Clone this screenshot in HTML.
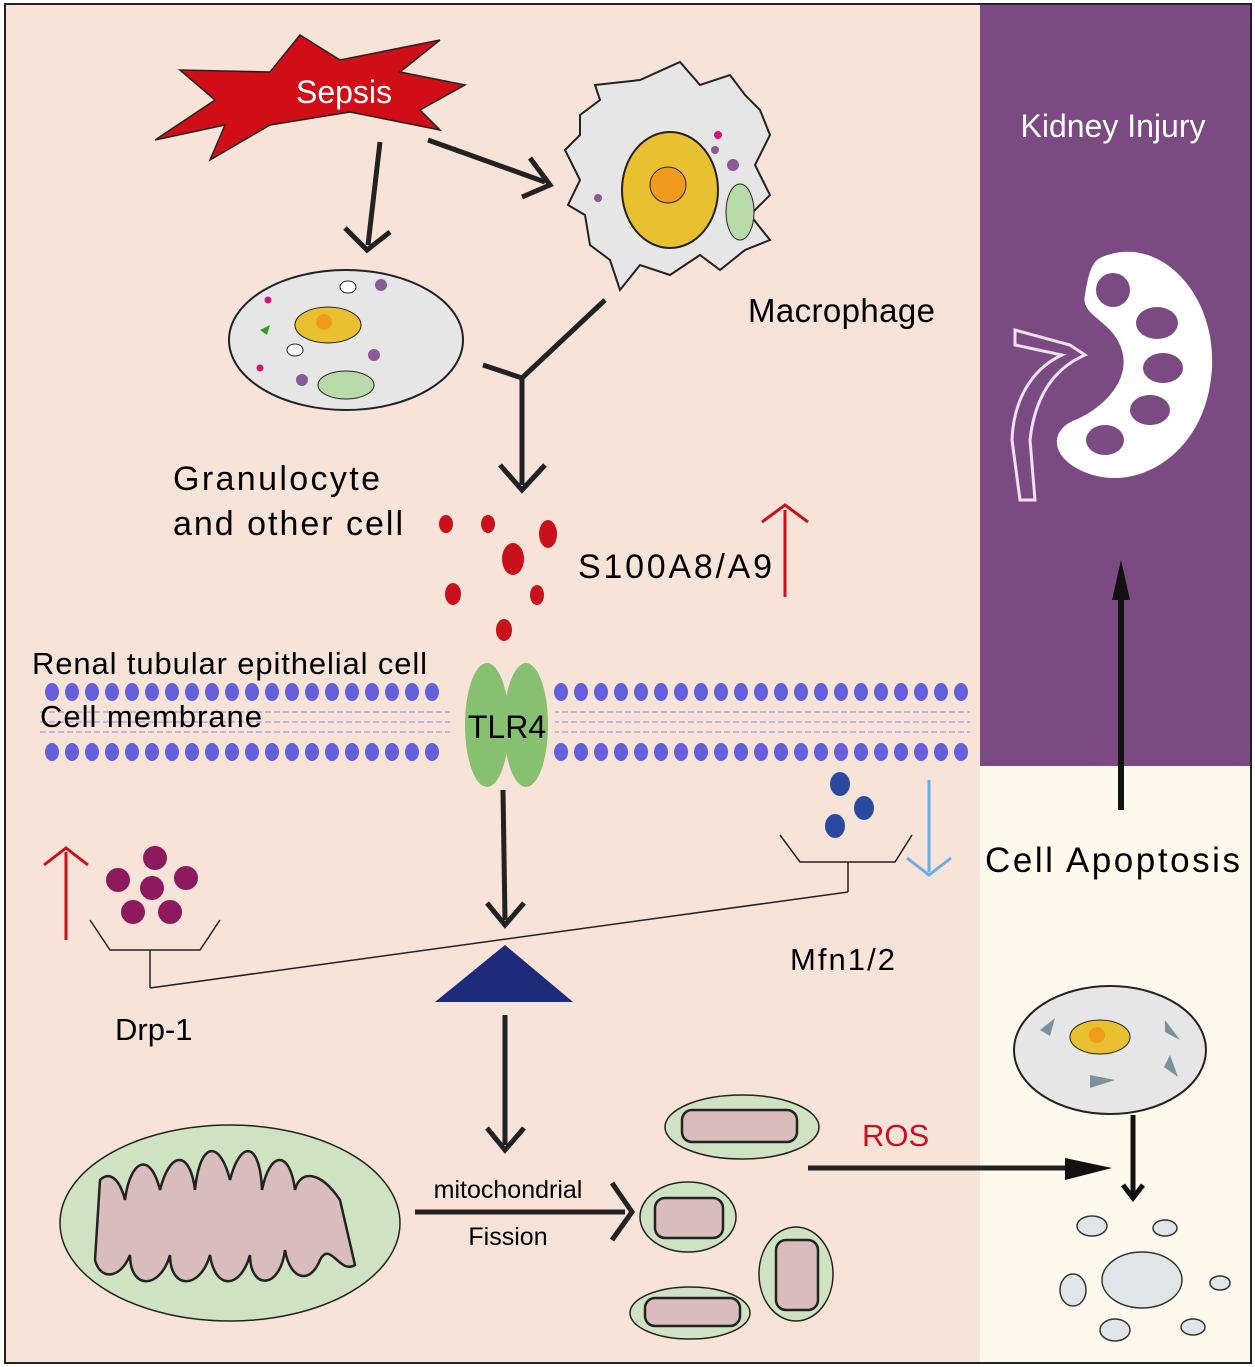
<!DOCTYPE html>
<html><head><meta charset="utf-8"><style>
html,body{margin:0;padding:0;background:#fff}
svg{display:block}
text{font-family:"Liberation Sans",sans-serif}
</style></head><body>
<svg width="1255" height="1367" viewBox="0 0 1255 1367" xmlns="http://www.w3.org/2000/svg">
<rect x="0" y="0" width="1255" height="1367" fill="#fff"/>
<rect x="5" y="4" width="1246" height="1359" fill="#f7e3d8" stroke="#222" stroke-width="2"/>
<rect x="980" y="5" width="270" height="1357" fill="#fdf9ec"/>
<rect x="980" y="5" width="270" height="761" fill="#7b4a82"/>
<text x="1113" y="137" font-size="32" fill="#fff" text-anchor="middle">Kidney Injury</text>
<!-- kidney -->
<g>
<path d="M1100,258 C1160,230 1225,300 1210,385 C1198,460 1130,495 1080,470 C1050,455 1050,430 1075,420 C1100,410 1135,380 1120,345 C1110,320 1080,315 1085,295 C1088,275 1092,262 1100,258 Z" fill="#fff"/>
<circle cx="1113" cy="290" r="17" fill="#7b4a82"/><ellipse cx="1157" cy="323" rx="21" ry="16" fill="#7b4a82"/><ellipse cx="1163" cy="368" rx="20" ry="15" fill="#7b4a82"/><ellipse cx="1150" cy="410" rx="20" ry="15" fill="#7b4a82"/><ellipse cx="1105" cy="440" rx="19" ry="15" fill="#7b4a82"/>
<path d="M1015,330 L1070,345 L1085,355 C1055,368 1035,395 1030,440 L1035,500 L1020,500 L1012,440 C1014,390 1040,365 1062,355 L1015,345 Z" fill="none" stroke="#f0e0f4" stroke-width="3"/>
</g>
<line x1="1121" y1="810" x2="1121" y2="600" stroke="#111" stroke-width="6"/>
<polygon points="1112,600 1130,600 1121,560" fill="#111"/>
<text x="985" y="872" font-size="35" fill="#000" textLength="255">Cell  Apoptosis</text>
<!-- apoptotic cell -->
<ellipse cx="1110" cy="1050" rx="96" ry="64" fill="#e6e6e6" stroke="#222" stroke-width="2"/>
<ellipse cx="1100" cy="1037" rx="30" ry="17" fill="#e8c030" stroke="#222"/>
<circle cx="1097" cy="1035" r="8" fill="#f29a1e"/>
<path d="M1040,1030 l15,-12 l-5,18z M1165,1020 l15,20 l-15,-8z M1170,1055 l8,22 l-14,-10z M1090,1075 l25,5 l-25,8z" fill="#7a929c"/>
<line x1="1133" y1="1115" x2="1133" y2="1195" stroke="#111" stroke-width="5"/>
<path d="M1123,1185 L1133,1198 L1143,1185" fill="none" stroke="#111" stroke-width="5"/>
<g fill="#e0e6e8" stroke="#333" stroke-width="1.5">
<ellipse cx="1092" cy="1226" rx="15" ry="10"/><ellipse cx="1165" cy="1228" rx="12" ry="8"/><ellipse cx="1142" cy="1280" rx="40" ry="28"/>
<ellipse cx="1073" cy="1290" rx="13" ry="16"/><ellipse cx="1220" cy="1283" rx="10" ry="7"/><ellipse cx="1115" cy="1330" rx="15" ry="11"/><ellipse cx="1193" cy="1327" rx="12" ry="8"/>
</g>
<!-- Sepsis -->
<path d="M155,140 L215,100 L180,70 L270,72 L300,35 L340,60 L440,40 L400,72 L465,85 L420,110 L440,130 L350,112 L270,125 L210,160 L225,125 Z" fill="#d10d17" stroke="#222" stroke-width="1.5"/>
<text x="344" y="103" font-size="32" fill="#fff" text-anchor="middle">Sepsis</text>
<g stroke="#222" stroke-width="5" fill="none">
<line x1="380" y1="142" x2="368" y2="245"/><path d="M345,228 L367,250 L390,232"/>
<line x1="428" y1="140" x2="545" y2="182"/><path d="M530,158 L550,185 L522,197"/>
<path d="M483,365 L522,378 L605,300"/><line x1="522" y1="378" x2="522" y2="485"/><path d="M500,465 L522,490 L545,465"/>
<line x1="503" y1="790" x2="505" y2="920"/><path d="M487,903 L505,925 L524,903"/>
<line x1="505" y1="1015" x2="505" y2="1145"/><path d="M487,1128 L505,1150 L524,1128"/>
<line x1="415" y1="1212" x2="625" y2="1212"/><path d="M612,1183 L632,1212 L612,1240"/>
<line x1="808" y1="1168" x2="1070" y2="1168"/>
</g>
<polygon points="1065,1158 1112,1168 1065,1180" fill="#111"/>
<!-- macrophage -->
<path d="M580,115 L600,100 L595,85 L640,80 L680,62 L700,85 L730,75 L745,95 L760,110 L770,135 L755,165 L770,195 L750,215 L770,240 L745,250 L720,270 L700,255 L670,275 L640,265 L620,290 L610,260 L590,245 L585,215 L568,205 L580,180 L565,150 L580,135 Z" fill="#e6e6e6" stroke="#222" stroke-width="2"/>
<ellipse cx="670" cy="190" rx="48" ry="58" fill="#e8c030" stroke="#222" stroke-width="2"/>
<circle cx="668" cy="185" r="18" fill="#f29a1e" stroke="#222"/>
<ellipse cx="740" cy="212" rx="14" ry="28" fill="#b8d9a8" stroke="#222"/>
<circle cx="733" cy="165" r="6" fill="#8a5a96"/><circle cx="715" cy="150" r="4" fill="#8a5a96"/><circle cx="718" cy="135" r="4" fill="#d4147c"/><circle cx="598" cy="198" r="4" fill="#8a5a96"/>
<text x="748" y="322" font-size="33" fill="#000" textLength="187">Macrophage</text>
<!-- granulocyte -->
<ellipse cx="346" cy="340" rx="117" ry="70" fill="#e6e6e6" stroke="#222" stroke-width="2"/>
<ellipse cx="328" cy="325" rx="33" ry="18" fill="#e8c030" stroke="#222"/>
<circle cx="324" cy="322" r="8" fill="#f29a1e"/>
<ellipse cx="346" cy="385" rx="28" ry="14" fill="#b8d9a8" stroke="#222"/>
<ellipse cx="348" cy="287" rx="8" ry="6" fill="#fff" stroke="#222"/><ellipse cx="295" cy="350" rx="8" ry="6" fill="#fff" stroke="#222"/>
<circle cx="381" cy="285" r="6" fill="#8a5a96"/><circle cx="374" cy="355" r="6" fill="#8a5a96"/><circle cx="302" cy="380" r="6" fill="#8a5a96"/>
<circle cx="268" cy="300" r="3.5" fill="#d4147c"/><circle cx="260" cy="368" r="3.5" fill="#d4147c"/><path d="M260,330 l10,-5 l-3,10z" fill="#3a9a30"/>
<text x="173" y="490" font-size="34" fill="#000" textLength="207">Granulocyte</text>
<text x="173" y="535" font-size="34" fill="#000" textLength="230">and other cell</text>
<!-- S100 dots -->
<g fill="#c8111c">
<ellipse cx="446" cy="524" rx="7" ry="9"/><ellipse cx="488" cy="524" rx="7" ry="9"/><ellipse cx="548" cy="534" rx="9" ry="14"/><ellipse cx="513" cy="559" rx="11" ry="16"/>
<ellipse cx="453" cy="594" rx="8" ry="11"/><ellipse cx="537" cy="595" rx="7" ry="10"/><ellipse cx="504" cy="630" rx="8" ry="11"/>
</g>
<text x="578" y="578" font-size="34" fill="#000" textLength="194">S100A8/A9</text>
<line x1="785" y1="597" x2="785" y2="510" stroke="#c8111c" stroke-width="3"/><path d="M762,522 L785,505 L808,522" fill="none" stroke="#c8111c" stroke-width="3"/>
<!-- membrane -->
<g fill="#6460dc">
<g id="row">
<ellipse cx="52" cy="692" rx="7" ry="9"/><ellipse cx="72" cy="692" rx="7" ry="9"/><ellipse cx="92" cy="692" rx="7" ry="9"/><ellipse cx="112" cy="692" rx="7" ry="9"/><ellipse cx="132" cy="692" rx="7" ry="9"/><ellipse cx="152" cy="692" rx="7" ry="9"/><ellipse cx="172" cy="692" rx="7" ry="9"/><ellipse cx="192" cy="692" rx="7" ry="9"/><ellipse cx="212" cy="692" rx="7" ry="9"/><ellipse cx="232" cy="692" rx="7" ry="9"/><ellipse cx="252" cy="692" rx="7" ry="9"/><ellipse cx="272" cy="692" rx="7" ry="9"/><ellipse cx="292" cy="692" rx="7" ry="9"/><ellipse cx="312" cy="692" rx="7" ry="9"/><ellipse cx="332" cy="692" rx="7" ry="9"/><ellipse cx="352" cy="692" rx="7" ry="9"/><ellipse cx="372" cy="692" rx="7" ry="9"/><ellipse cx="392" cy="692" rx="7" ry="9"/><ellipse cx="412" cy="692" rx="7" ry="9"/><ellipse cx="432" cy="692" rx="7" ry="9"/>
<ellipse cx="561" cy="692" rx="7" ry="9"/><ellipse cx="581" cy="692" rx="7" ry="9"/><ellipse cx="601" cy="692" rx="7" ry="9"/><ellipse cx="621" cy="692" rx="7" ry="9"/><ellipse cx="641" cy="692" rx="7" ry="9"/><ellipse cx="661" cy="692" rx="7" ry="9"/><ellipse cx="681" cy="692" rx="7" ry="9"/><ellipse cx="701" cy="692" rx="7" ry="9"/><ellipse cx="721" cy="692" rx="7" ry="9"/><ellipse cx="741" cy="692" rx="7" ry="9"/><ellipse cx="761" cy="692" rx="7" ry="9"/><ellipse cx="781" cy="692" rx="7" ry="9"/><ellipse cx="801" cy="692" rx="7" ry="9"/><ellipse cx="821" cy="692" rx="7" ry="9"/><ellipse cx="841" cy="692" rx="7" ry="9"/><ellipse cx="861" cy="692" rx="7" ry="9"/><ellipse cx="881" cy="692" rx="7" ry="9"/><ellipse cx="901" cy="692" rx="7" ry="9"/><ellipse cx="921" cy="692" rx="7" ry="9"/><ellipse cx="941" cy="692" rx="7" ry="9"/><ellipse cx="961" cy="692" rx="7" ry="9"/>
</g>
<use href="#row" y="60"/>
</g>
<g stroke="#8a88e8" stroke-width="1" stroke-dasharray="6,3">
<line x1="40" y1="712" x2="970" y2="712"/><line x1="40" y1="722" x2="970" y2="722"/><line x1="40" y1="732" x2="970" y2="732"/>
</g>
<rect x="450" y="700" width="105" height="45" fill="#f7e3d8"/>
<text x="32" y="674" font-size="31" fill="#000" textLength="395">Renal tubular epithelial cell</text>
<text x="40" y="727" font-size="31" fill="#000" textLength="222">Cell membrane</text>
<ellipse cx="487" cy="725" rx="22" ry="62" fill="#86c070"/><ellipse cx="526" cy="725" rx="22" ry="62" fill="#86c070"/>
<text x="507" y="738" font-size="32" fill="#000" text-anchor="middle">TLR4</text>
<!-- seesaw -->
<line x1="150" y1="988" x2="848" y2="892" stroke="#222" stroke-width="1.5"/>
<polygon points="505,945 435,1002 573,1002" fill="#1e2a7a"/>
<path d="M90,920 L110,950 L200,950 L220,920 M150,950 L150,988" fill="none" stroke="#222" stroke-width="1.5"/>
<path d="M780,835 L800,862 L895,862 L912,835 M848,862 L848,892" fill="none" stroke="#222" stroke-width="1.5"/>
<g fill="#8c1a5c"><circle cx="155" cy="858" r="12"/><circle cx="118" cy="880" r="12"/><circle cx="152" cy="888" r="12"/><circle cx="186" cy="878" r="12"/><circle cx="133" cy="912" r="12"/><circle cx="170" cy="912" r="12"/></g>
<g fill="#2a4aa0"><ellipse cx="840" cy="784" rx="10" ry="12"/><ellipse cx="864" cy="808" rx="10" ry="12"/><ellipse cx="835" cy="826" rx="10" ry="12"/></g>
<line x1="66" y1="940" x2="66" y2="852" stroke="#c8111c" stroke-width="3"/><path d="M44,865 L66,848 L88,865" fill="none" stroke="#c8111c" stroke-width="3"/>
<line x1="929" y1="780" x2="929" y2="872" stroke="#6aaee6" stroke-width="3"/><path d="M907,858 L929,875 L951,858" fill="none" stroke="#6aaee6" stroke-width="3"/>
<text x="115" y="1040" font-size="31" fill="#000">Drp-1</text>
<text x="790" y="970" font-size="31" fill="#000" textLength="105">Mfn1/2</text>
<!-- mitochondria -->
<ellipse cx="230" cy="1223" rx="170" ry="98" fill="#cfe2c2" stroke="#222" stroke-width="1.5"/>
<path d="M95,1260 L100,1180 C110,1170 120,1180 125,1200 C130,1160 150,1150 160,1190 C170,1150 190,1150 195,1190 C200,1140 220,1140 230,1180 C240,1140 260,1140 262,1190 C270,1150 290,1150 295,1190 C300,1170 320,1170 340,1200 L355,1265 C340,1275 330,1240 320,1260 C310,1285 290,1280 285,1250 C280,1290 250,1290 250,1255 C240,1290 215,1290 210,1255 C200,1290 170,1290 170,1255 C160,1290 130,1290 130,1255 C120,1280 100,1280 95,1260 Z" fill="#d9bcbc" stroke="#222" stroke-width="2.5"/>
<text x="508" y="1198" font-size="25" fill="#000" text-anchor="middle">mitochondrial</text>
<text x="508" y="1245" font-size="25" fill="#000" text-anchor="middle">Fission</text>
<g stroke="#222" stroke-width="1.5">
<ellipse cx="742" cy="1127" rx="77" ry="32" fill="#cfe2c2"/><ellipse cx="688" cy="1217" rx="48" ry="35" fill="#cfe2c2"/>
<ellipse cx="796" cy="1274" rx="37" ry="47" fill="#cfe2c2"/><ellipse cx="690" cy="1313" rx="60" ry="26" fill="#cfe2c2"/>
</g>
<g fill="#d9bcbc" stroke="#222" stroke-width="2.5">
<rect x="682" y="1110" width="115" height="32" rx="10"/><rect x="655" y="1198" width="68" height="40" rx="10"/>
<rect x="776" y="1240" width="42" height="70" rx="10"/><rect x="645" y="1298" width="95" height="28" rx="10"/>
</g>
<text x="862" y="1146" font-size="31" fill="#c8111c">ROS</text>
</svg>
</body></html>
